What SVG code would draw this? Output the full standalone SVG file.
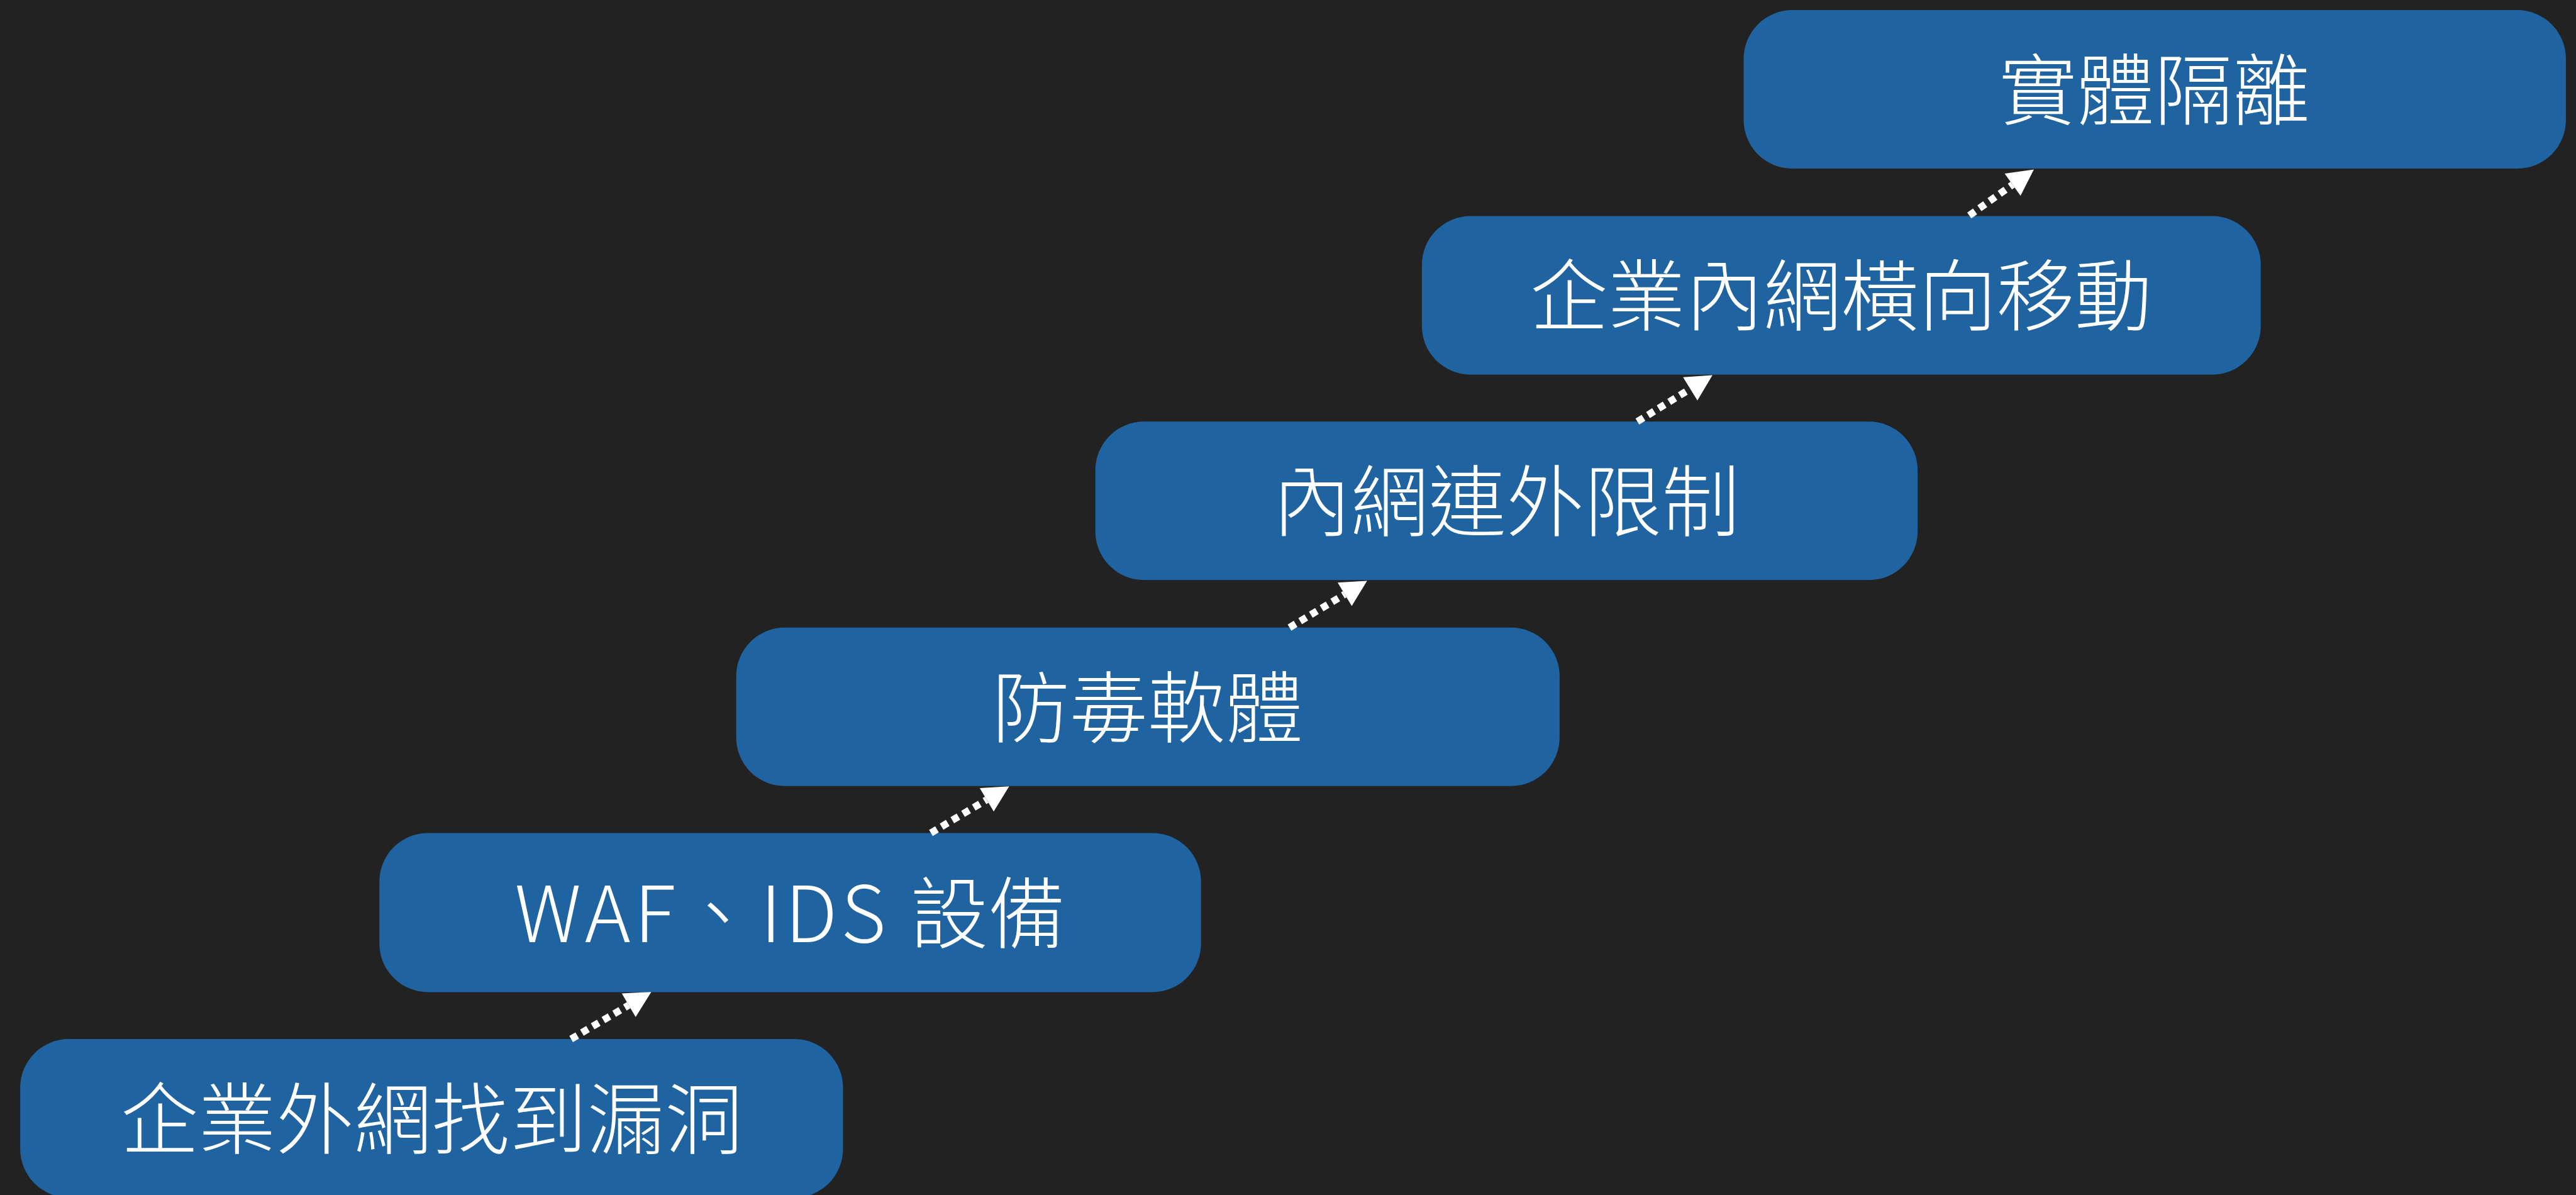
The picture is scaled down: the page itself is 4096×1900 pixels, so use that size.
<svg xmlns="http://www.w3.org/2000/svg" width="4096" height="1900" viewBox="0 0 4096 1900">
  <style>
    .box { fill: #1f63a0; }
    .label { fill: #ffffff; font-family: "Noto Sans CJK TC", "Noto Sans CJK SC", sans-serif; font-size: 131px; font-weight: 300; text-anchor: middle; }
    .conn { stroke: #ffffff; stroke-width: 12; stroke-dasharray: 12 9; fill: none; }
  </style>
  <defs>
    <marker id="head" markerUnits="userSpaceOnUse" markerWidth="50" markerHeight="50" refX="0" refY="23" orient="auto" viewBox="0 0 50 46" overflow="visible">
      <path d="M0,0 L44,23 L0,46 Z" fill="#ffffff"/>
    </marker>
  </defs>
  <rect width="4096" height="1900" fill="#222222"/>
  <g transform="scale(0.944)">
    <g id="node1">
      <rect class="box" x="34" y="1750" width="1386" height="267" rx="82" ry="82"/>
      <text class="label" x="727" y="1933">企業外網找到漏洞</text>
    </g>
    <g id="node2">
      <rect class="box" x="639" y="1403" width="1384" height="268" rx="82" ry="82"/>
      <text class="label" x="1331" y="1587"><tspan letter-spacing="6">WAF、IDS </tspan>設備</text>
    </g>
    <g id="node3">
      <rect class="box" x="1240" y="1057" width="1387" height="267" rx="82" ry="82"/>
      <text class="label" x="1933" y="1240">防毒軟體</text>
    </g>
    <g id="node4">
      <rect class="box" x="1845" y="710" width="1385" height="267" rx="82" ry="82"/>
      <text class="label" x="2537" y="893">內網連外限制</text>
    </g>
    <g id="node5">
      <rect class="box" x="2395" y="364" width="1413" height="267" rx="82" ry="82"/>
      <text class="label" x="3101" y="547">企業內網橫向移動</text>
    </g>
    <g id="node6">
      <rect class="box" x="2937" y="17" width="1385" height="267" rx="82" ry="82"/>
      <text class="label" x="3629" y="200">實體隔離</text>
    </g>
    <g id="connectors">
      <line class="conn" x1="962" y1="1750" x2="1059" y2="1693" marker-end="url(#head)"/>
      <line class="conn" x1="1568" y1="1403" x2="1662" y2="1347" marker-end="url(#head)"/>
      <line class="conn" x1="2172" y1="1057" x2="2265" y2="1001" marker-end="url(#head)"/>
      <line class="conn" x1="2758" y1="710" x2="2847" y2="655" marker-end="url(#head)"/>
      <line class="conn" x1="3317" y1="363" x2="3390" y2="311" marker-end="url(#head)"/>
    </g>
  </g>
</svg>
